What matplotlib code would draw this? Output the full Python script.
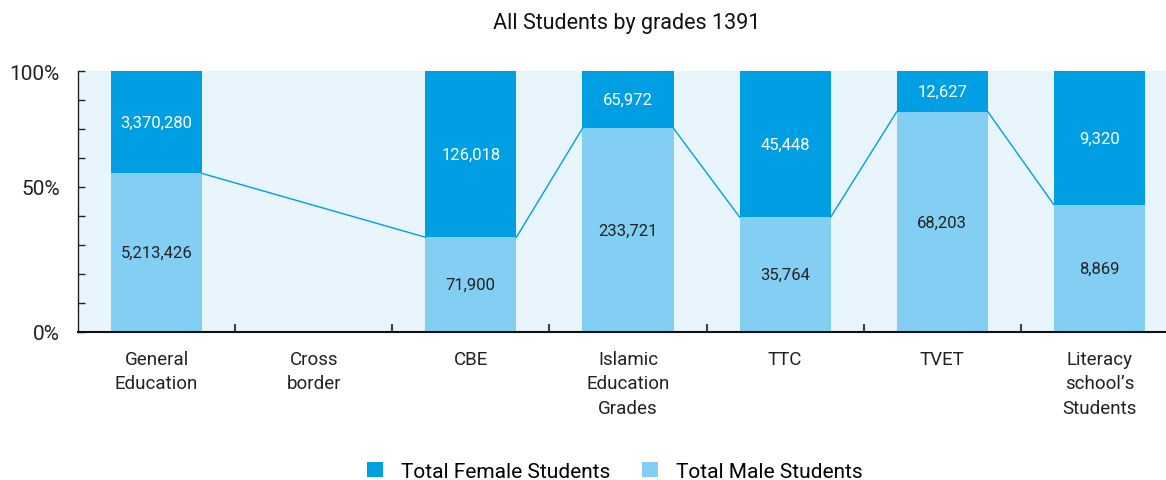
import matplotlib
matplotlib.use("Agg")
import matplotlib.pyplot as plt
from matplotlib.patches import Patch
import numpy as np

categories = ["General\nEducation", "Cross\nborder", "CBE", "Islamic\nEducation\nGrades",
              "TTC", "TVET", "Literacy\nschool\u2019s\nStudents"]
female = [3370280, None, 126018, 65972, 45448, 12627, 9320]
male = [5213426, None, 71900, 233721, 35764, 68203, 8869]
title = "All Students by grades 1391"

C_FEMALE = "#009FE3"
C_MALE = "#83CFF4"
C_BG = "#E8F5FD"

plt.rcParams['font.family'] = ['Roboto', 'DejaVu Sans']

fig = plt.figure(figsize=(11.66, 4.81), dpi=100)
ax = fig.add_axes([78/1166, 1-333/481, (1178-78)/1166, (333-72)/481])
ax.set_facecolor(C_BG)

x = np.arange(len(categories))
bw = 0.58
valid = [i for i in range(len(categories)) if male[i] is not None]
mp = {i: male[i] / (male[i] + female[i]) for i in valid}

for i in valid:
    m = mp[i]
    ax.bar(x[i], m, width=bw, color=C_MALE, zorder=2)
    ax.bar(x[i], 1 - m, bottom=m, width=bw, color=C_FEMALE, zorder=2)
    ax.text(x[i], m / 2, f"{male[i]:,}", ha='center', va='center', fontsize=12, color='#222222', zorder=3)
    ax.text(x[i], m + (1 - m) / 2, f"{female[i]:,}", ha='center', va='center', fontsize=12, color='white', zorder=3)

for a, b in zip(valid[:-1], valid[1:]):
    ax.plot([x[a] + bw / 2, x[b] - bw / 2], [mp[a], mp[b]], color=C_FEMALE, lw=1.0, zorder=2)

ax.set_xlim(-0.5, len(categories) - 0.5)
ax.set_ylim(0, 1)

ax.set_xticks(x)
ax.set_xticklabels(categories, fontsize=13.5, linespacing=1.45, color='#222222')
ax.tick_params(axis='x', which='major', length=0, pad=13)
ax.set_xticks(np.arange(0.5, len(categories) - 0.5, 1), minor=True)
ax.tick_params(axis='x', which='minor', direction='in', length=6, width=1.5, color='#444444')

ax.set_yticks([0, 5/9, 1])
ax.set_yticklabels(["0%", "50%", "100%"], fontsize=15, color='#222222')
ax.set_yticks([k / 9 for k in range(1, 9) if k != 5], minor=True)
ax.tick_params(axis='y', which='both', direction='in', length=5, width=1.0, color='#222222', pad=13)

for s in ['top', 'right']:
    ax.spines[s].set_visible(False)
ax.spines['left'].set_color('#222222')
ax.spines['bottom'].set_color('#111111')
ax.spines['bottom'].set_linewidth(1.5)
ax.spines['left'].set_linewidth(1.0)

fig.text(627/1166, 1-24/481, title, ha='center', va='center', fontsize=15.5, color='#111111')

handles = [Patch(facecolor=C_FEMALE, label="Total Female Students"),
           Patch(facecolor=C_MALE, label="Total Male Students")]
fig.legend(handles=handles, loc='center', bbox_to_anchor=(615/1166, 1-472/481), ncol=2,
           frameon=False, fontsize=15, handlelength=0.75, handleheight=0.75, handletextpad=0.9,
           columnspacing=1.5)

fig.savefig("out.png", dpi=100)
